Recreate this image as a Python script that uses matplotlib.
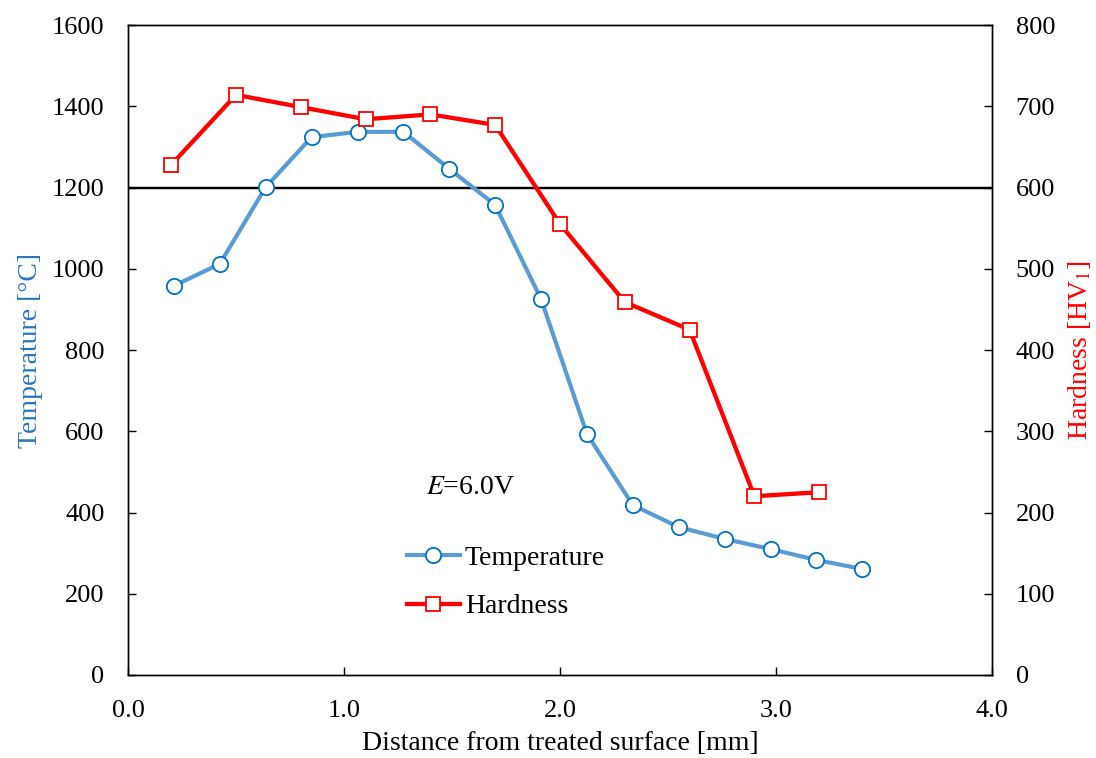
import matplotlib
matplotlib.use("Agg")
import matplotlib.pyplot as plt

plt.rcParams['font.family'] = ['Liberation Serif', 'DejaVu Serif']
plt.rcParams['mathtext.fontset'] = 'stix'

temp_x = [0.2125, 0.425, 0.6375, 0.85, 1.0625, 1.275, 1.4875, 1.7, 1.9125, 2.125,
          2.3375, 2.55, 2.7625, 2.975, 3.1875, 3.4]
temp_y = [958, 1012, 1201, 1324, 1337, 1337, 1246, 1157, 925, 593,
          418, 364, 335, 310, 283, 261]

hard_x = [0.2, 0.5, 0.8, 1.1, 1.4, 1.7, 2.0, 2.3, 2.6, 2.9, 3.2]
hard_y = [628, 714, 699, 684, 690, 677, 555, 459, 425, 220, 225]

ref_temp = 1200

fig = plt.figure(figsize=(10.96, 7.58), dpi=100)
ax = fig.add_axes([0.1168, 0.1095, 0.9051 - 0.1168, 0.967 - 0.1095])
ax2 = ax.twinx()

l1, = ax.plot(temp_x, temp_y, color='#5B9BD5', lw=3, marker='o', ms=11,
              mfc='white', mec='#0070C0', mew=1.3, label='Temperature', zorder=3)
ax.axhline(ref_temp, color='black', lw=1.75, zorder=2)
l2, = ax2.plot(hard_x, hard_y, color='#FF0000', lw=3.1, marker='s', ms=10,
               mfc='white', mec='#FF0000', mew=1.3, label='Hardness', zorder=3)

ax.set_xlim(0, 4)
ax.set_ylim(0, 1600)
ax2.set_ylim(0, 800)
ax.set_xticks([0, 1, 2, 3, 4])
ax.set_xticklabels(['0.0', '1.0', '2.0', '3.0', '4.0'])
ax.set_yticks(range(0, 1601, 200))
ax2.set_yticks(range(0, 801, 100))

for a in (ax, ax2):
    a.tick_params(direction='in', labelsize=19, length=6, width=1, color='black')
    for s in a.spines.values():
        s.set_linewidth(1)
ax.tick_params(axis='x', pad=18)
ax.tick_params(axis='y', pad=17)
ax2.tick_params(axis='y', pad=17)

ax.set_xlabel('Distance from treated surface [mm]', fontsize=20, labelpad=6.5)
ax.set_ylabel('Temperature [°C]', fontsize=20, color='#2E75B6', labelpad=6)
ax2.set_ylabel('Hardness [HV$_{1}$]', fontsize=20, color='#FF0000', labelpad=8)

ax.text(0.397, 0.289, '$E$=6.0V', transform=ax.transAxes, fontsize=20,
        ha='center', va='center')

ax.legend([l1, l2], ['Temperature', 'Hardness'], loc='upper left',
          bbox_to_anchor=(0.323, 0.199), frameon=False, fontsize=20,
          handlelength=1.9, handletextpad=0.18, labelspacing=0.82,
          borderpad=0, borderaxespad=0)

fig.savefig('out.png', dpi=100)
